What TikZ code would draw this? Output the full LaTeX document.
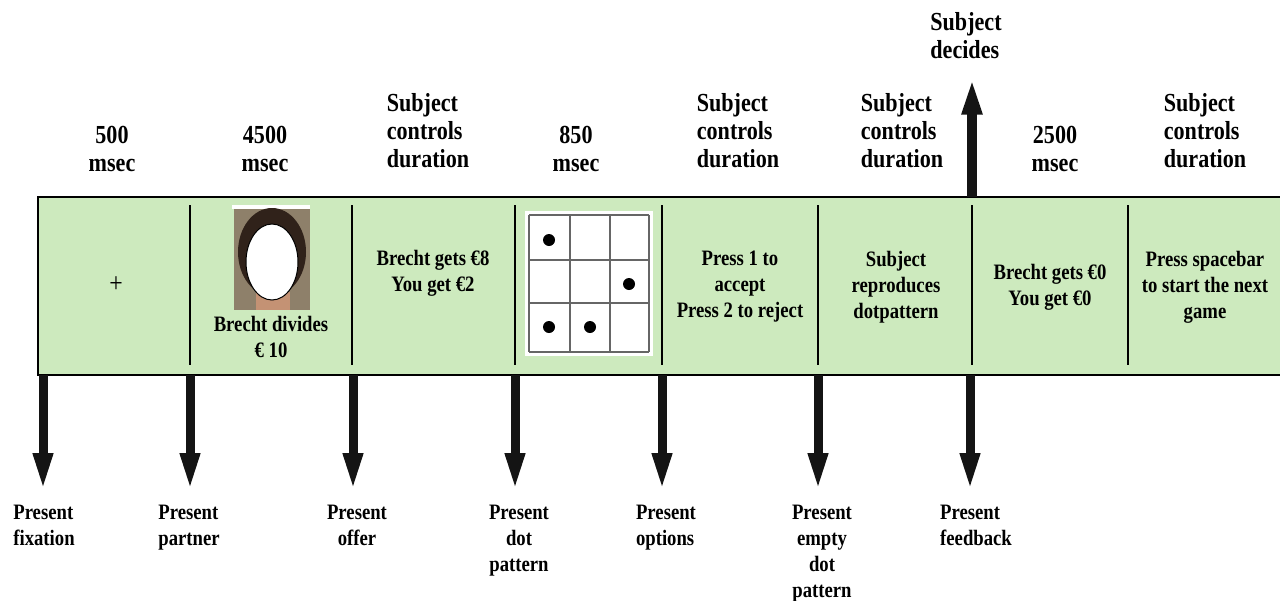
\documentclass[tikz,border=0pt]{standalone}
\usepackage{fontspec}
\setmainfont{Liberation Serif}[FakeStretch=0.85]
\usetikzlibrary{arrows.meta}
\definecolor{bandgreen}{RGB}{205,234,190}
\definecolor{photobg}{RGB}{142,128,106}
\definecolor{hair}{RGB}{48,34,26}
\definecolor{skin}{RGB}{196,146,116}
\tikzset{
  toplbl/.style={font=\bfseries\fontsize{13}{14}\selectfont, inner sep=0pt},
  txt/.style={font=\bfseries\fontsize{11}{13}\selectfont, align=center, inner sep=0pt},
  bigarrow/.style={line width=4.5pt, draw=black!92, -{Triangle[length=19pt,width=9pt]}}
}
\begin{document}
\begin{tikzpicture}[x=0.5pt,y=-0.5pt]
        \useasboundingbox (0,0) rectangle (1280,600);

        \fill[bandgreen] (38,197) rectangle (1280,375);
        \draw[line width=1pt] (1280,197) -- (38,197) -- (38,375) -- (1280,375);
        \foreach \x in {190,352,515,662,818,972,1128}
          \draw[line width=0.7pt] (\x,205) -- (\x,365);

        \node[font=\fontsize{14}{14}\selectfont, inner sep=0pt] (fix) at (116,285) {+};

        \fill[white] (232,205) rectangle (310,209);
        \fill[photobg] (234,209) rectangle (310,310);
        \fill[hair] (272,252) ellipse (17pt and 22pt);
        \fill[skin] (256,292) rectangle (290,310);
        \filldraw[fill=white, draw=black, line width=0.5pt] (272,262) ellipse (13pt and 19pt);
        \node[txt] (divides) at (271,337) {Brecht divides\\€ 10};

        \node[txt] (offer) at (433,273) {Brecht gets €8\\You get €2};

        \fill[white] (525,211) rectangle (653,356);
        \foreach \x in {529,570,610,649}
          \draw[black!60, line width=0.6pt] (\x,215) -- (\x,352);
        \foreach \y in {215,260,303,352}
          \draw[black!60, line width=0.6pt] (529,\y) -- (649,\y);
        \foreach \x/\y in {549/240, 629/284, 549/327, 590/327}
          \fill (\x,\y) circle (3pt);

        \node[txt] (choice) at (740,287) {Press 1 to\\accept\\Press 2 to reject};
        \node[txt] (repro) at (896,287) {Subject\\reproduces\\dotpattern};
        \node[txt] (feedback) at (1050,287) {Brecht gets €0\\You get €0};
        \node[txt] (next) at (1205,287) {Press spacebar\\to start the  next\\game};

        \node[toplbl, align=center] (t1) at (112,149) {500\\msec};
        \node[toplbl, align=center] (t2) at (265,149) {4500\\msec};
        \node[toplbl, align=left] (t3) at (428,131) {Subject\\controls\\duration};
        \node[toplbl, align=center] (t4) at (576,149) {850\\msec};
        \node[toplbl, align=left] (t5) at (738,131) {Subject\\controls\\duration};
        \node[toplbl, align=left] (t6) at (902,131) {Subject\\controls\\duration};
        \node[toplbl, align=center] (t7) at (1055,149) {2500\\msec};
        \node[toplbl, align=left] (t8) at (1205,131) {Subject\\controls\\duration};

        \node[toplbl, align=left] (decides) at (966,36) {Subject\\decides};
        \coordinate (up) at (972,197);
        \draw[bigarrow, line width=5pt, shorten >=8.5pt] (up) -- (up |- decides.south);

        \foreach \n/\x/\lx/\al/\t in {1/43/44/left/{Present\\fixation},
            2/190/189/left/{Present\\partner},
            3/353/357/center/{Present\\offer},
            4/515/519/center/{Present\\dot\\pattern},
            5/662/666/left/{Present\\options},
            6/818/822/center/{Present\\empty\\dot\\pattern},
            7/970/976/left/{Present\\feedback}} {
          \coordinate (b\n) at (\x,375);
          \node[txt, align=\al, anchor=north] (p\n) at (\lx,505) {\t};
          \draw[bigarrow, shorten >=7pt] (b\n) -- (b\n |- p\n.north);
        }
      \end{tikzpicture}
\end{document}
